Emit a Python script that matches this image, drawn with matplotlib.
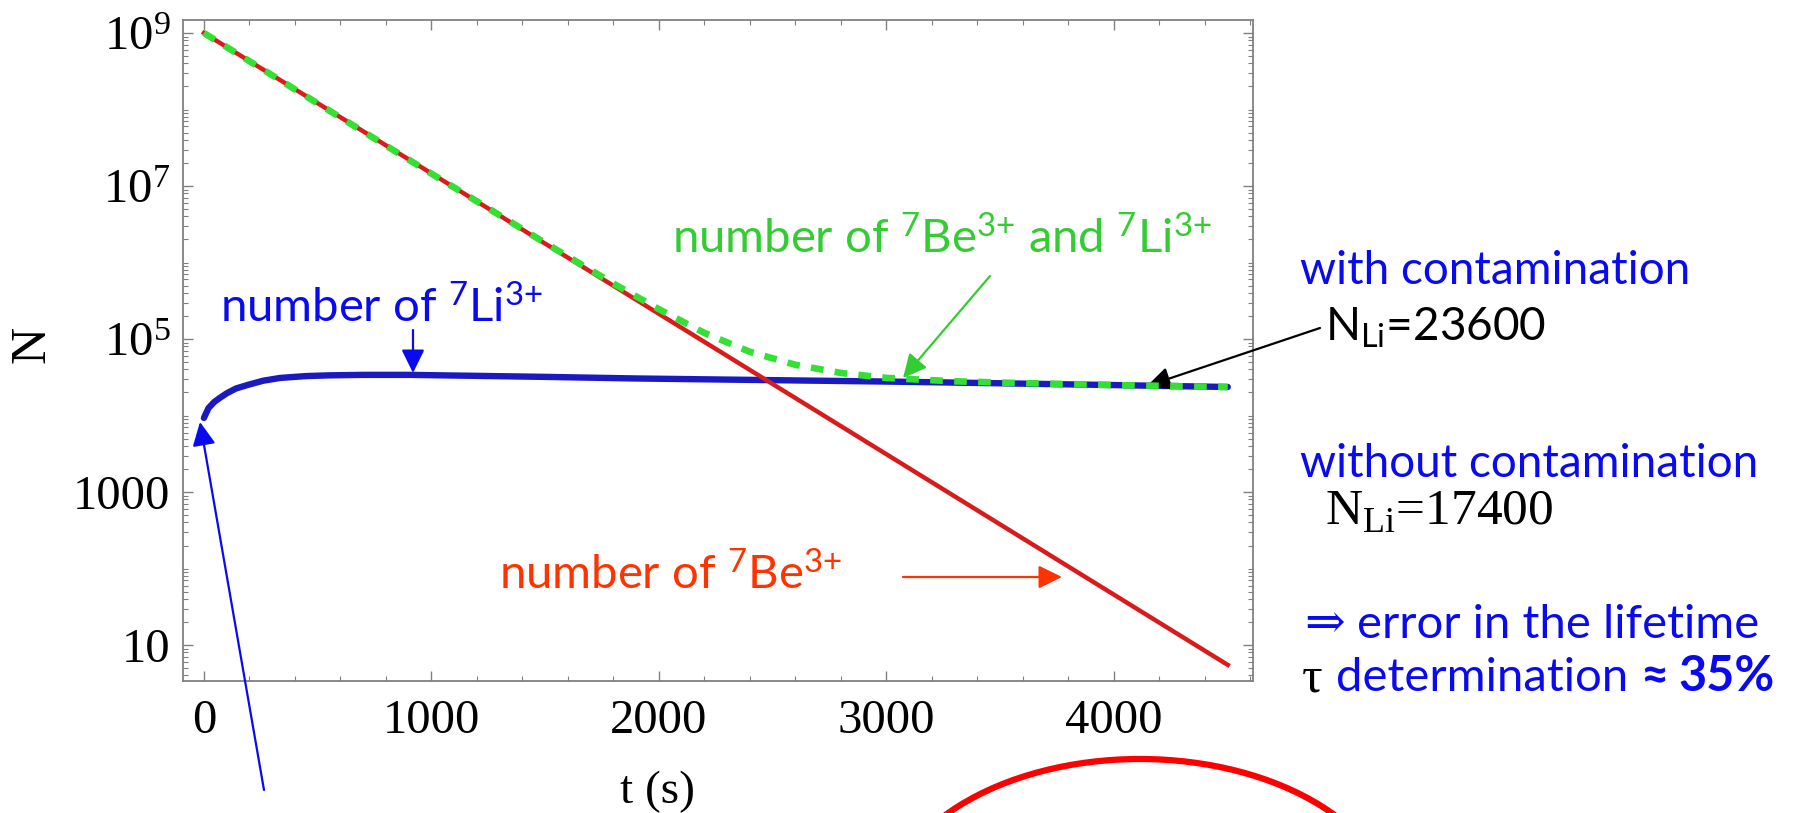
import matplotlib
matplotlib.use("Agg")
import matplotlib.pyplot as plt
from matplotlib.patches import Ellipse
import numpy as np

W, H = 1817, 813

# values
t_be = [0, 4500]
n_be = [1.0e9, 5.5]

t_li = [0, 20, 45, 70, 100, 140, 190, 260, 335, 450, 550, 700, 900, 1200, 1500,
        1900, 2500, 3000, 3500, 4000, 4500]
n_li = [9300, 12500, 15000, 17000, 19500, 22500, 25000, 28500, 31000, 32800, 33500,
        34000, 34000, 33000, 32000, 30500, 29000, 27800, 26400, 25000, 23600]

t_sum = [0, 500, 1000, 1500, 1800, 2000, 2200, 2400, 2600, 2800, 3000, 3300, 3600, 4000, 4500]
n_sum = [1.0e9, 1.2e8, 1.45e7, 1.8e6, 5.3e5, 2.45e5, 1.2e5, 6.8e4, 4.6e4, 3.6e4,
         3.1e4, 2.8e4, 2.65e4, 2.5e4, 2.36e4]

x_major = [0, 1000, 2000, 3000, 4000]
x_labels = ["0", "1000", "2000", "3000", "4000"]
y_major = [10, 1e3, 1e5, 1e7, 1e9]
y_labels = ["10", "1000", r"$\mathregular{10^{5}}$", r"$\mathregular{10^{7}}$", r"$\mathregular{10^{9}}$"]

SERIF = ["Liberation Serif", "DejaVu Serif"]
SANS = ["Lato", "DejaVu Sans"]
BLUE_TXT = "#0a0af0"
GRAY = "#808080"

fig = plt.figure(figsize=(W / 100, H / 100), dpi=100)
ax = fig.add_axes([183 / W, 1 - 681 / H, 1070 / W, 661 / H])
ax.set_yscale("log")

ax.plot(t_li, n_li, color="#1a1ac0", lw=4.6, solid_capstyle="round", zorder=2)
ax.plot(t_be, n_be, color="#d81c1c", lw=3.2, zorder=3)
ax.plot(t_sum, n_sum, color="#33e033", lw=4.8, linestyle=(0, (1.9, 1.7)),
        dash_capstyle="butt", zorder=4)

ax.set_xticks(x_major)
ax.set_xticks([v for v in np.arange(0, 4601, 200) if v not in x_major], minor=True)
ax.set_xticklabels(x_labels)
ax.set_yticks(y_major)
ax.set_yticks([k * 10.0 ** e for e in range(0, 10) for k in range(1, 10)
               if k * 10.0 ** e not in y_major], minor=True)
ax.set_yticklabels(y_labels)
ax.yaxis.set_minor_formatter(plt.NullFormatter())

# limits after the ticks, set_ticks would widen them otherwise
ax.set_xlim(-92, 4611)
ax.set_ylim(10 ** 0.53, 10 ** 9.17)

ax.tick_params(which="both", direction="in", top=True, right=True, color=GRAY)
ax.tick_params(which="major", length=7, width=1.0, labelsize=35)
ax.tick_params(which="minor", length=3.5, width=0.8)
ax.tick_params(axis="x", pad=13)
ax.tick_params(axis="y", pad=9)
for lbl in ax.get_xticklabels() + ax.get_yticklabels():
    lbl.set_family(SERIF)
for sp in ax.spines.values():
    sp.set_color(GRAY)
    sp.set_linewidth(1.3)

fig.text(32 / W, 1 - 344 / H, "N", rotation=90, family=SERIF, fontsize=37,
         ha="center", va="center")
fig.text(657 / W, 1 - 792 / H, "t (s)", family=SERIF, fontsize=34, ha="center", va="center")

renderer = fig.canvas.get_renderer()


def put_runs(x, y, runs):
    # x, y in pixels from top-left, y is the baseline; a run is (text, gap_before, kwargs)
    for s, gap, kw in runs:
        x += gap
        t = fig.text(x / W, 1 - y / H, s, ha="left", va="baseline", **kw)
        x += t.get_window_extent(renderer=renderer).width


def arrow(x0, y0, x1, y1, color, lw=1.6, hl=0.55, hw=0.27):
    ax.annotate("", xy=(x1, H - y1), xycoords="figure pixels",
                xytext=(x0, H - y0), textcoords="figure pixels",
                arrowprops=dict(arrowstyle=f"-|>,head_length={hl},head_width={hw}",
                                color=color, lw=lw, shrinkA=0, shrinkB=0,
                                mutation_scale=26),
                annotation_clip=False)


lab = dict(family=SANS, fontsize=34)
put_runs(220, 322, [(r"number of $\mathregular{^7Li^{3{+}}}$", 0, dict(color=BLUE_TXT, **lab))])
put_runs(672, 253, [(r"number of $\mathregular{^7Be^{3{+}}}$ and $\mathregular{^7Li^{3{+}}}$", 0,
                     dict(color="#33cc33", **lab))])
put_runs(499, 589, [(r"number of $\mathregular{^7Be^{3{+}}}$", 0, dict(color="#ff3300", **lab))])

arrow(413, 330, 413, 373, BLUE_TXT)
arrow(264, 790, 200, 422, BLUE_TXT)
arrow(990, 276, 903, 378, "#33cc33")
arrow(1320, 328, 1147, 386, "black")
arrow(903, 577, 1062, 577, "#ff3300")

rt = dict(family=SANS, fontsize=33)
put_runs(1300, 284, [("with contamination", 0, dict(color=BLUE_TXT, **rt))])
put_runs(1325, 340, [(r"N$_{\mathregular{Li}}$=23600", 0, dict(color="black", **rt))])
put_runs(1300, 477, [("without contamination", 0, dict(color=BLUE_TXT, **rt))])
put_runs(1325, 525, [(r"N$_{\mathregular{Li}}$=17400", 0,
                      dict(color="black", family=SERIF, fontsize=37))])
rt2 = dict(family=SANS, fontsize=34)
put_runs(1304, 638, [("\u21d2", 0, dict(color=BLUE_TXT, family=SERIF, fontsize=35)),
                     ("error in the lifetime", 12, dict(color=BLUE_TXT, **rt2))])
put_runs(1302, 691, [("\u03c4", 0, dict(color="black", family=SERIF, fontsize=37)),
                     ("determination", 13, dict(color=BLUE_TXT, **rt2)),
                     ("\u2248", 12, dict(color=BLUE_TXT, family=SANS, fontsize=35, weight="bold")),
                     ("35%", 10, dict(color=BLUE_TXT, family=SANS, fontsize=35, weight="bold"))])

fig.add_artist(Ellipse((1140 / W, 1 - 919 / H), 512 / W, 320 / H, transform=fig.transFigure,
                       fill=False, edgecolor="#ff0000", lw=4.5, clip_on=False))

fig.savefig("out.png", dpi=100)
